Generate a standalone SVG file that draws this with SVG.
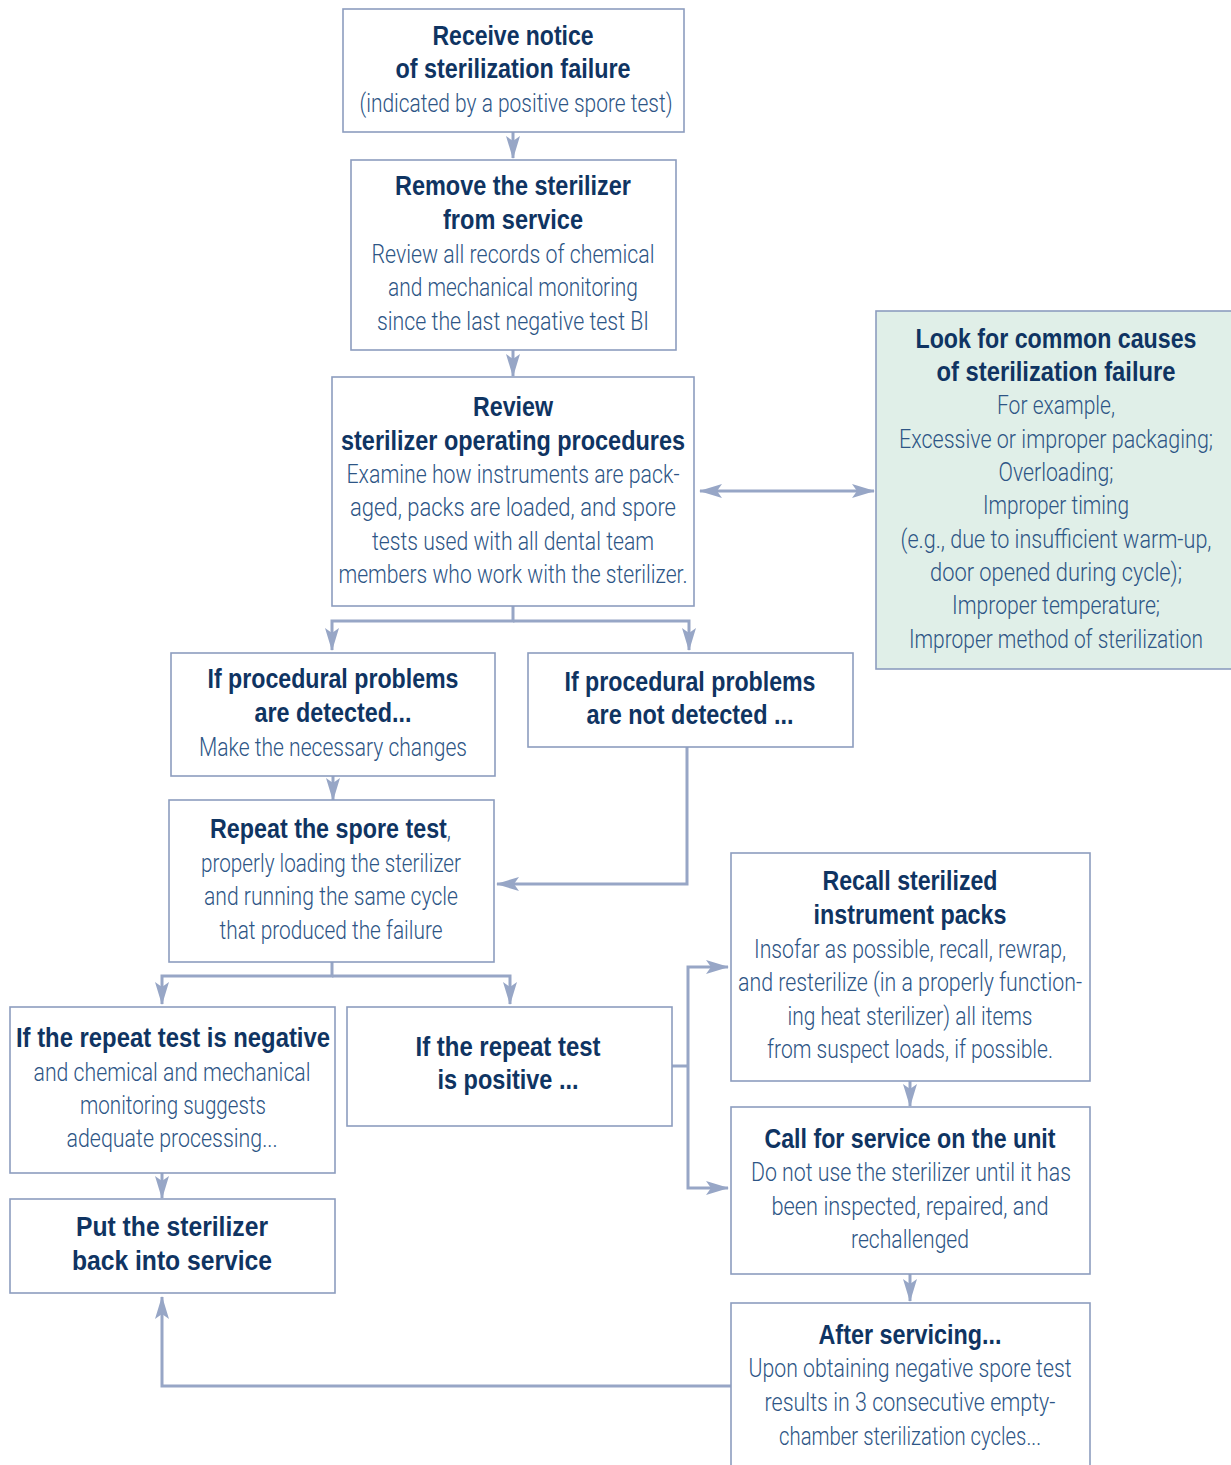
<svg xmlns="http://www.w3.org/2000/svg" width="1231" height="1465" viewBox="0 0 1231 1465">
<style>
.box{fill:#fff;stroke:#8d9dbf;stroke-width:1.6}
.green{fill:#e0efe8;stroke:#8d9dbf;stroke-width:1.6}
text{text-anchor:middle;font-family:"Liberation Sans",Arial,sans-serif}
.t{font-size:27px;font-weight:bold;fill:#0f3462}
.b{font-size:25px;fill:#2d5585;font-family:Roboto,"Liberation Sans",sans-serif;font-weight:300}
.s{text-anchor:start}
.c{fill:none;stroke:#97a6c6;stroke-width:3}
</style>
<defs>
<marker id="ah" markerUnits="userSpaceOnUse" markerWidth="24" markerHeight="14" refX="22" refY="7" orient="auto-start-reverse" viewBox="0 0 24 14">
<path d="M0,0 L23,7 L0,14 L5,7 z" fill="#97a6c6"/>
</marker>
</defs>
<g id="connectors">
<line class="c" x1="513" y1="132" x2="513" y2="158" marker-end="url(#ah)"/>
<line class="c" x1="513" y1="350" x2="513" y2="376" marker-end="url(#ah)"/>
<polyline class="c" points="513,606 513,621 332,621 332,650" marker-end="url(#ah)"/>
<polyline class="c" points="513,621 689,621 689,650" marker-end="url(#ah)"/>
<line class="c" x1="700" y1="491" x2="874" y2="491" marker-start="url(#ah)" marker-end="url(#ah)"/>
<line class="c" x1="333" y1="776" x2="333" y2="800" marker-end="url(#ah)"/>
<polyline class="c" points="687,747 687,884 497,884" marker-end="url(#ah)"/>
<polyline class="c" points="332,962 332,976 162,976 162,1004" marker-end="url(#ah)"/>
<polyline class="c" points="332,976 510,976 510,1004" marker-end="url(#ah)"/>
<line class="c" x1="162" y1="1173" x2="162" y2="1198" marker-end="url(#ah)"/>
<line class="c" x1="672" y1="1066" x2="688" y2="1066"/>
<polyline class="c" points="728,967 688,967 688,1188 728,1188" marker-start="url(#ah)" marker-end="url(#ah)"/>
<line class="c" x1="910" y1="1081" x2="910" y2="1106" marker-end="url(#ah)"/>
<line class="c" x1="910" y1="1274" x2="910" y2="1301" marker-end="url(#ah)"/>
<polyline class="c" points="731,1386 162,1386 162,1297" marker-end="url(#ah)"/>
</g>
<g id="n1">
<rect class="box" x="343" y="9" width="341" height="123"/>
<text class="t" x="513" y="45" textLength="161" lengthAdjust="spacingAndGlyphs">Receive notice</text>
<text class="t" x="513" y="78" textLength="235" lengthAdjust="spacingAndGlyphs">of sterilization failure</text>
<text class="b" x="516" y="112" textLength="313" lengthAdjust="spacingAndGlyphs">(indicated by a positive spore test)</text>
</g>
<g id="n2">
<rect class="box" x="351" y="160" width="325" height="190"/>
<text class="t" x="513" y="195" textLength="236" lengthAdjust="spacingAndGlyphs">Remove the sterilizer</text>
<text class="t" x="513" y="229" textLength="140" lengthAdjust="spacingAndGlyphs">from service</text>
<text class="b" x="513" y="263" textLength="283" lengthAdjust="spacingAndGlyphs">Review all records of chemical</text>
<text class="b" x="513" y="296" textLength="250" lengthAdjust="spacingAndGlyphs">and mechanical monitoring</text>
<text class="b" x="513" y="330" textLength="272" lengthAdjust="spacingAndGlyphs">since the last negative test BI</text>
</g>
<g id="n3">
<rect class="box" x="332" y="377" width="362" height="229"/>
<text class="t" x="513" y="416" textLength="80" lengthAdjust="spacingAndGlyphs">Review</text>
<text class="t" x="513" y="450" textLength="344" lengthAdjust="spacingAndGlyphs">sterilizer operating procedures</text>
<text class="b" x="513" y="483" textLength="333" lengthAdjust="spacingAndGlyphs">Examine how instruments are pack-</text>
<text class="b" x="513" y="516" textLength="326" lengthAdjust="spacingAndGlyphs">aged, packs are loaded, and spore</text>
<text class="b" x="513" y="550" textLength="282" lengthAdjust="spacingAndGlyphs">tests used with all dental team</text>
<text class="b" x="513" y="583" textLength="349" lengthAdjust="spacingAndGlyphs">members who work with the sterilizer.</text>
</g>
<g id="n4">
<rect class="green" x="876" y="311" width="356" height="358"/>
<text class="t" x="1056" y="348" textLength="281" lengthAdjust="spacingAndGlyphs">Look for common causes</text>
<text class="t" x="1056" y="381" textLength="239" lengthAdjust="spacingAndGlyphs">of sterilization failure</text>
<text class="b" x="1056" y="414" textLength="118" lengthAdjust="spacingAndGlyphs">For example,</text>
<text class="b" x="1056" y="448" textLength="314" lengthAdjust="spacingAndGlyphs">Excessive or improper packaging;</text>
<text class="b" x="1056" y="481" textLength="115" lengthAdjust="spacingAndGlyphs">Overloading;</text>
<text class="b" x="1056" y="514" textLength="146" lengthAdjust="spacingAndGlyphs">Improper timing</text>
<text class="b" x="1056" y="548" textLength="311" lengthAdjust="spacingAndGlyphs">(e.g., due to insufficient warm-up,</text>
<text class="b" x="1056" y="581" textLength="252" lengthAdjust="spacingAndGlyphs">door opened during cycle);</text>
<text class="b" x="1056" y="614" textLength="208" lengthAdjust="spacingAndGlyphs">Improper temperature;</text>
<text class="b" x="1056" y="648" textLength="294" lengthAdjust="spacingAndGlyphs">Improper method of sterilization</text>
</g>
<g id="n5">
<rect class="box" x="171" y="653" width="324" height="123"/>
<text class="t" x="333" y="688" textLength="251" lengthAdjust="spacingAndGlyphs">If procedural problems</text>
<text class="t" x="333" y="722" textLength="157" lengthAdjust="spacingAndGlyphs">are detected...</text>
<text class="b" x="333" y="756" textLength="268" lengthAdjust="spacingAndGlyphs">Make the necessary changes</text>
</g>
<g id="n6">
<rect class="box" x="528" y="653" width="325" height="94"/>
<text class="t" x="690" y="691" textLength="251" lengthAdjust="spacingAndGlyphs">If procedural problems</text>
<text class="t" x="690" y="724" textLength="207" lengthAdjust="spacingAndGlyphs">are not detected ...</text>
</g>
<g id="n7">
<rect class="box" x="169" y="800" width="325" height="162"/>
<text class="s" x="210" y="838" textLength="241" lengthAdjust="spacingAndGlyphs"><tspan class="t">Repeat the spore test</tspan><tspan class="b">,</tspan></text>
<text class="b" x="331" y="872" textLength="260" lengthAdjust="spacingAndGlyphs">properly loading the sterilizer</text>
<text class="b" x="331" y="905" textLength="254" lengthAdjust="spacingAndGlyphs">and running the same cycle</text>
<text class="b" x="331" y="939" textLength="223" lengthAdjust="spacingAndGlyphs">that produced the failure</text>
</g>
<g id="n8">
<rect class="box" x="10" y="1007" width="325" height="166"/>
<text class="t" x="173" y="1047" textLength="314" lengthAdjust="spacingAndGlyphs">If the repeat test is negative</text>
<text class="b" x="172" y="1081" textLength="277" lengthAdjust="spacingAndGlyphs">and chemical and mechanical</text>
<text class="b" x="173" y="1114" textLength="186" lengthAdjust="spacingAndGlyphs">monitoring suggests</text>
<text class="b" x="172" y="1147" textLength="211" lengthAdjust="spacingAndGlyphs">adequate processing...</text>
</g>
<g id="n9">
<rect class="box" x="347" y="1007" width="325" height="119"/>
<text class="t" x="508" y="1056" textLength="185" lengthAdjust="spacingAndGlyphs">If the repeat test</text>
<text class="t" x="508" y="1089" textLength="141" lengthAdjust="spacingAndGlyphs">is positive ...</text>
</g>
<g id="n10">
<rect class="box" x="10" y="1199" width="325" height="94"/>
<text class="t" x="172" y="1236" textLength="192" lengthAdjust="spacingAndGlyphs">Put the sterilizer</text>
<text class="t" x="172" y="1270" textLength="200" lengthAdjust="spacingAndGlyphs">back into service</text>
</g>
<g id="n11">
<rect class="box" x="731" y="853" width="359" height="228"/>
<text class="t" x="910" y="890" textLength="175" lengthAdjust="spacingAndGlyphs">Recall sterilized</text>
<text class="t" x="910" y="924" textLength="193" lengthAdjust="spacingAndGlyphs">instrument packs</text>
<text class="b" x="910" y="958" textLength="312" lengthAdjust="spacingAndGlyphs">Insofar as possible, recall, rewrap,</text>
<text class="b" x="910" y="991" textLength="344" lengthAdjust="spacingAndGlyphs">and resterilize (in a properly function-</text>
<text class="b" x="910" y="1025" textLength="245" lengthAdjust="spacingAndGlyphs">ing heat sterilizer) all items</text>
<text class="b" x="910" y="1058" textLength="286" lengthAdjust="spacingAndGlyphs">from suspect loads, if possible.</text>
</g>
<g id="n12">
<rect class="box" x="731" y="1107" width="359" height="167"/>
<text class="t" x="910" y="1148" textLength="291" lengthAdjust="spacingAndGlyphs">Call for service on the unit</text>
<text class="b" x="911" y="1181" textLength="320" lengthAdjust="spacingAndGlyphs">Do not use the sterilizer until it has</text>
<text class="b" x="910" y="1215" textLength="277" lengthAdjust="spacingAndGlyphs">been inspected, repaired, and</text>
<text class="b" x="910" y="1248" textLength="118" lengthAdjust="spacingAndGlyphs">rechallenged</text>
</g>
<g id="n13">
<rect class="box" x="731" y="1303" width="359" height="180"/>
<text class="t" x="910" y="1344" textLength="183" lengthAdjust="spacingAndGlyphs">After servicing...</text>
<text class="b" x="910" y="1377" textLength="323" lengthAdjust="spacingAndGlyphs">Upon obtaining negative spore test</text>
<text class="b" x="910" y="1411" textLength="291" lengthAdjust="spacingAndGlyphs">results in 3 consecutive empty-</text>
<text class="b" x="910" y="1445" textLength="262" lengthAdjust="spacingAndGlyphs">chamber sterilization cycles...</text>
</g>
</svg>
